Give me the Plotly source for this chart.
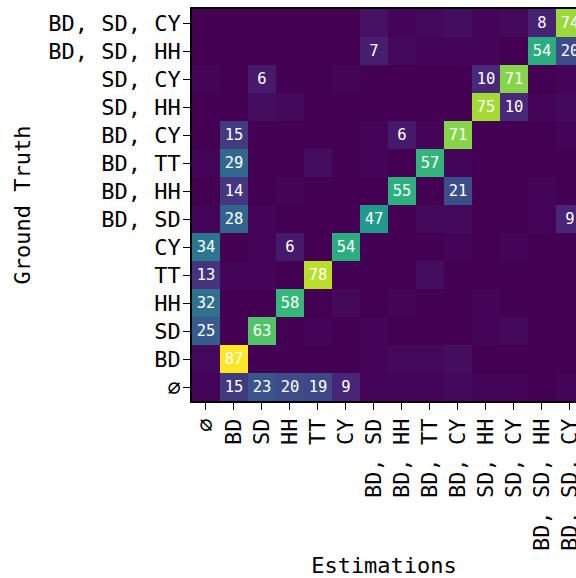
import plotly.graph_objects as go

gt_labels = ["BD, SD, CY", "BD, SD, HH", "SD, CY", "SD, HH", "BD, CY", "BD, TT",
             "BD, HH", "BD, SD", "CY", "TT", "HH", "SD", "BD", "∅"]
est_labels = ["∅", "BD", "SD", "HH", "TT", "CY", "BD, SD", "BD, HH", "BD, TT",
              "BD, CY", "SD, HH", "SD, CY", "BD, SD, HH", "BD, SD, CY"]

row_bd_sd_cy = [0, 0, 0, 0, 0, 0, 4, 1, 2, 3, 1, 2, 8, 74]
row_bd_sd_hh = [0, 0, 0, 0, 0, 0, 7, 2, 1, 1, 1, 0, 54, 20]
row_sd_cy    = [1, 0, 6, 0, 0, 1, 0, 0, 0, 0, 10, 71, 0, 1]
row_sd_hh    = [0, 0, 3, 2, 0, 0, 0, 0, 0, 0, 75, 10, 1, 2]
row_bd_cy    = [0, 15, 0, 0, 0, 0, 1, 6, 1, 71, 0, 0, 0, 1]
row_bd_tt    = [1, 29, 0, 0, 3, 0, 1, 0, 57, 1, 0, 0, 0, 0]
row_bd_hh    = [0, 14, 0, 1, 0, 0, 0, 55, 0, 21, 0, 0, 1, 0]
row_bd_sd    = [1, 28, 1, 0, 0, 0, 47, 0, 2, 2, 0, 0, 1, 9]
row_cy       = [34, 0, 1, 6, 0, 54, 0, 0, 0, 1, 0, 1, 0, 0]
row_tt       = [13, 1, 1, 0, 78, 0, 0, 0, 3, 0, 0, 0, 0, 0]
row_hh       = [32, 0, 0, 58, 0, 2, 0, 1, 0, 0, 1, 0, 0, 0]
row_sd       = [25, 0, 63, 0, 1, 0, 1, 0, 0, 0, 1, 2, 0, 0]
row_bd       = [2, 87, 0, 0, 0, 0, 1, 2, 2, 3, 0, 0, 0, 0]
row_none     = [1, 15, 23, 20, 19, 9, 1, 1, 1, 2, 1, 1, 0, 1]

z = [row_bd_sd_cy, row_bd_sd_hh, row_sd_cy, row_sd_hh, row_bd_cy, row_bd_tt,
     row_bd_hh, row_bd_sd, row_cy, row_tt, row_hh, row_sd, row_bd, row_none]
text = [[str(v) if v >= 5 else "" for v in r] for r in z]

FONT = "DejaVu Sans Mono"

fig = go.Figure(go.Heatmap(
    z=z, x=est_labels, y=gt_labels, text=text, texttemplate="%{text}",
    textfont=dict(family=FONT, size=15.5, color="white"),
    colorscale="Viridis", zmin=0, zmax=87, showscale=False, xgap=0, ygap=0,
))

# x range stops partway through the last column, as the reference is cropped there
fig.update_layout(
    width=576, height=578,
    margin=dict(l=192, r=0, t=9, b=177, autoexpand=False),
    paper_bgcolor="white", plot_bgcolor="white",
    font=dict(family=FONT, size=22, color="black"),
)
fig.update_xaxes(
    type="category", range=[-0.5, 13.225], tickangle=-90,
    ticks="outside", ticklen=7, tickwidth=1.3, tickcolor="black",
    showline=True, linecolor="black", linewidth=1.6, mirror=True,
    tickfont=dict(family=FONT, size=22),
    title=dict(text="Estimations", font=dict(family=FONT, size=22), standoff=18),
    automargin=False, showgrid=False, zeroline=False,
)
fig.update_yaxes(
    type="category", autorange="reversed",
    ticks="outside", ticklen=7, tickwidth=1.3, tickcolor="black",
    showline=True, linecolor="black", linewidth=1.6, mirror=True,
    tickfont=dict(family=FONT, size=22), ticklabelstandoff=-2,
    title=dict(text="Ground Truth", font=dict(family=FONT, size=22), standoff=12),
    automargin=False, showgrid=False, zeroline=False,
)

fig.write_html(
    "out.html",
    config={"displayModeBar": False},
    post_script="document.body.style.margin='0';"
                "document.body.style.overflow='hidden';"
                "document.documentElement.style.overflow='hidden';",
)
